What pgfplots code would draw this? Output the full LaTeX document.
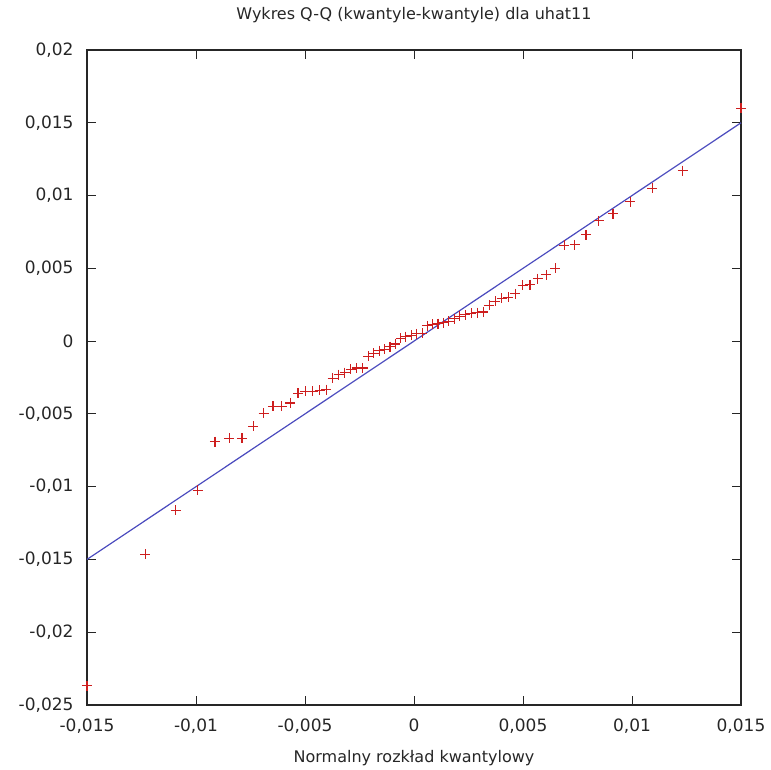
\documentclass[border=0pt]{standalone}
\usepackage{fontspec}
\setmainfont{DejaVu Sans}
\usepackage{pgfplots}
\pgfplotsset{compat=1.18}
\definecolor{ptred}{RGB}{205,30,30}
\definecolor{lnblue}{RGB}{75,75,190}
\begin{document}
\fontsize{16}{19}\selectfont
\begin{tikzpicture}
\useasboundingbox (0,0) rectangle (771pt,769pt);
\begin{axis}[
    at={(87pt,64pt)}, anchor=south west,
    width=654pt, height=655pt, scale only axis,
    xmin=-0.015, xmax=0.015,
    ymin=-0.025, ymax=0.02,
    xtick={-0.015,-0.01,-0.005,0,0.005,0.01,0.015},
    xticklabels={{-0,015},{-0,01},{-0,005},{0},{0,005},{0,01},{0,015}},
    ytick={-0.025,-0.02,-0.015,-0.01,-0.005,0,0.005,0.01,0.015,0.02},
    yticklabels={{-0,025},{-0,02},{-0,015},{-0,01},{-0,005},{0},{0,005},{0,01},{0,015},{0,02}},
    scaled ticks=false,
    tick align=inside, major tick length=9pt,
    tick style={black!85, line width=1pt},
    axis line style={black!85, line width=1.3pt},
    tick label style={font=\fontsize{17}{20}\selectfont, black!85},
    xticklabel style={yshift=-8pt},
    yticklabel style={xshift=-8pt},
    title={Wykres Q-Q (kwantyle-kwantyle) dla uhat11},
    title style={at={(axis description cs:0.5,1)}, anchor=center, yshift=29pt, font=\fontsize{16}{19}\selectfont, black!85},
    xlabel={Normalny rozkład kwantylowy},
    xlabel style={at={(axis description cs:0.5,0)}, anchor=center, yshift=-53pt, font=\fontsize{16}{19}\selectfont, black!85},
    clip=false,
]
\addplot[only marks, mark=+, mark size=5pt, color=ptred, mark options={ptred, line width=1.1pt}] table {
x y
-0.01500 -0.02367
-0.01233 -0.01463
-0.01092 -0.01163
-0.00993 -0.01026
-0.00913 -0.00690
-0.00847 -0.00666
-0.00789 -0.00666
-0.00737 -0.00586
-0.00690 -0.00495
-0.00647 -0.00449
-0.00606 -0.00449
-0.00568 -0.00425
-0.00532 -0.00357
-0.00498 -0.00346
-0.00465 -0.00346
-0.00433 -0.00339
-0.00403 -0.00334
-0.00373 -0.00254
-0.00345 -0.00231
-0.00317 -0.00216
-0.00290 -0.00195
-0.00263 -0.00185
-0.00236 -0.00185
-0.00210 -0.00105
-0.00185 -0.00085
-0.00159 -0.00065
-0.00135 -0.00055
-0.00110 -0.00040
-0.00085 -0.00020
-0.00061 0.00020
-0.00037 0.00030
-0.00012 0.00040
0.00012 0.00050
0.00037 0.00055
0.00061 0.00105
0.00085 0.00115
0.00110 0.00120
0.00135 0.00125
0.00159 0.00135
0.00185 0.00155
0.00210 0.00170
0.00236 0.00180
0.00263 0.00192
0.00290 0.00195
0.00317 0.00200
0.00345 0.00245
0.00373 0.00275
0.00403 0.00295
0.00433 0.00300
0.00465 0.00325
0.00498 0.00385
0.00532 0.00387
0.00568 0.00430
0.00606 0.00455
0.00647 0.00500
0.00690 0.00657
0.00737 0.00661
0.00789 0.00730
0.00847 0.00826
0.00913 0.00874
0.00993 0.00959
0.01092 0.01051
0.01233 0.01172
0.01500 0.01600
};
\addplot[color=lnblue, line width=1.2pt] coordinates {(-0.015,-0.015) (0.015,0.015)};
\end{axis}
\end{tikzpicture}
\end{document}
